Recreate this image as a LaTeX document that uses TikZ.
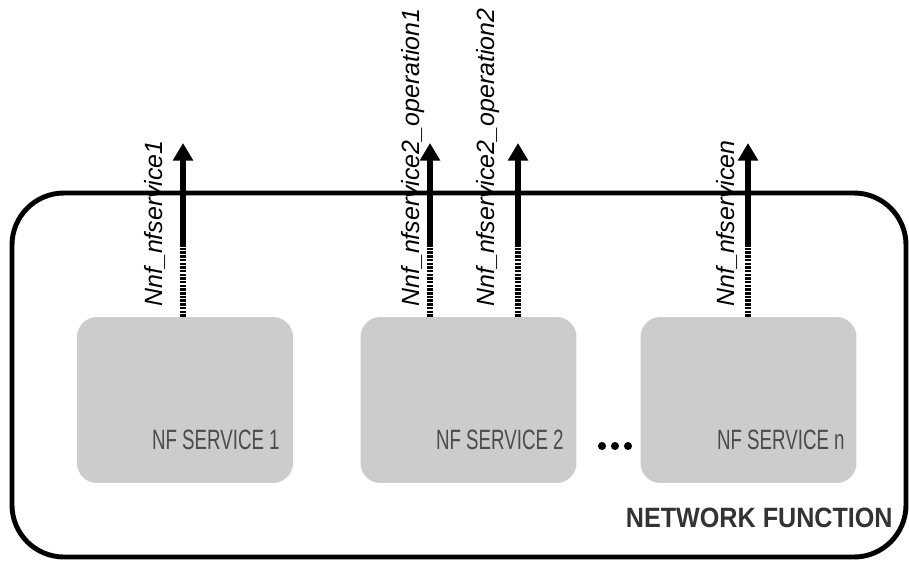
\documentclass[tikz,border=0pt]{standalone}
\usepackage{fontspec}
\setmainfont{Liberation Sans}
\usetikzlibrary{arrows.meta}
\begin{document}
\begin{tikzpicture}[x=0.02cm,y=-0.02cm]
\tikzstyle{svc}=[fill=black!20,rounded corners=0.4cm,minimum width=4.32cm,minimum height=3.32cm,inner sep=0pt]
\tikzstyle{svctext}=[text=black!70,font=\fontsize{15.9}{18}\selectfont,anchor=base east,inner sep=0pt]
\tikzstyle{api}=[line width=3pt,-{Triangle[width=11pt,length=10pt]}]
\tikzstyle{apistub}=[line width=3pt,dash pattern=on 1.4pt off 0.7pt]
\tikzstyle{lbl}=[rotate=90,anchor=base west,inner sep=0pt,font=\fontsize{14.2}{16}\selectfont\itshape]
\tikzstyle{dot}=[shape=circle,fill=black,inner sep=0pt,minimum size=4.6pt]
\useasboundingbox (0,0) rectangle (909,562);
% network function frame
\draw[line width=2.8pt,rounded corners=1.04cm] (12,193) rectangle (906,557);
\node[anchor=base east,inner sep=0pt,text=black!80,font=\bfseries\fontsize{15.9}{18}\selectfont] at (893,527) (nf) {\scalebox{0.9}[1]{NETWORK FUNCTION}};
% services
\node[svc] at (185,400) (s1) {};
\node[svc] at (468.5,400) (s2) {};
\node[svc] at (748.5,400) (s3) {};
\node[svctext] at (280,449) (t1) {\scalebox{0.67}[1]{NF SERVICE 1}};
\node[svctext] at (564,449) (t2) {\scalebox{0.67}[1]{NF SERVICE 2}};
\node[svctext] at (845,449) (t3) {\scalebox{0.67}[1]{NF SERVICE n}};
\node[dot] at (602,446) (d1) {};
\node[dot] at (615,446) (d2) {};
\node[dot] at (628,446) (d3) {};
% service based interfaces
\coordinate (a1) at (183,143);
\coordinate (a2) at (430,143);
\coordinate (a3) at (518,143);
\coordinate (a4) at (748,143);
\coordinate (m1) at (183,247);
\coordinate (m2) at (430,247);
\coordinate (m3) at (518,247);
\coordinate (m4) at (748,247);
\draw[apistub] (s1.north -| a1) -- (m1);
\draw[apistub] (s2.north -| a2) -- (m2);
\draw[apistub] (s2.north -| a3) -- (m3);
\draw[apistub] (s3.north -| a4) -- (m4);
\draw[api] (m1) -- (a1);
\draw[api] (m2) -- (a2);
\draw[api] (m3) -- (a3);
\draw[api] (m4) -- (a4);
\node[lbl] at (162,307) (l1) {Nnf\_nfservice1};
\node[lbl] at (419,307) (l2) {Nnf\_nfservice2\_operation1};
\node[lbl] at (494,307) (l3) {Nnf\_nfservice2\_operation2};
\node[lbl] at (734,307) (l4) {Nnf\_nfservicen};
\end{tikzpicture}
\end{document}
